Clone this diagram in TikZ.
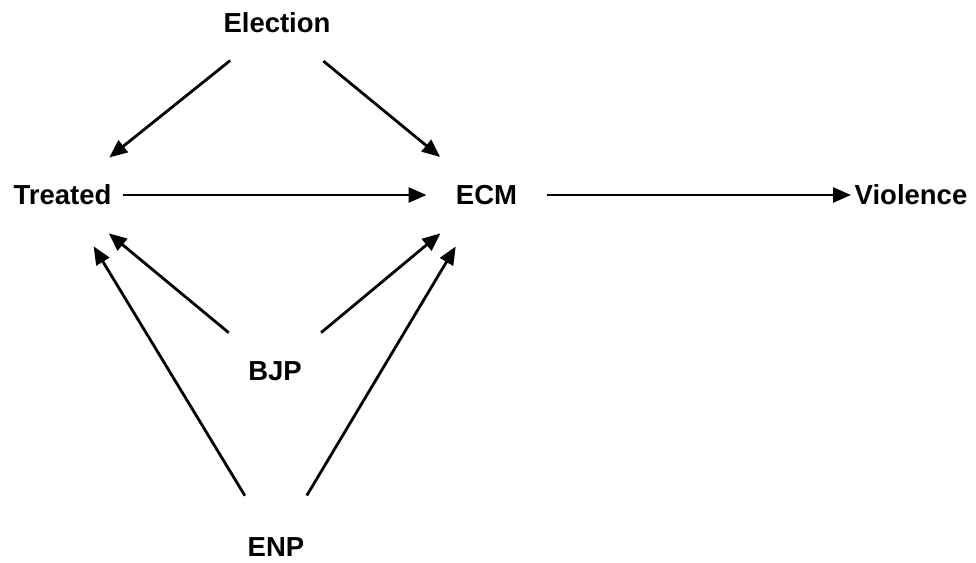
\documentclass[tikz,border=0pt]{standalone}
\usepackage{fontspec}
\setmainfont{Liberation Sans}
\usetikzlibrary{arrows.meta}
\begin{document}
\begin{tikzpicture}[x=1pt,y=-1pt,
  var/.style={inner sep=0pt,font=\bfseries\fontsize{27.5}{33}\selectfont},
  edge/.style={line width=2.8pt,-{Triangle[length=18pt,width=15pt]},shorten <=60pt,shorten >=60pt}]
\useasboundingbox (0,0) rectangle (976,562);
\node[var] (E) at (277,23) {Election};
\node[var] (T) at (62.5,195) {Treated};
\node[var] (C) at (486.5,195) {ECM};
\node[var] (V) at (911,195) {Violence};
\node[var] (B) at (275,371) {BJP};
\node[var] (N) at (276,547) {ENP};
\draw[edge] (E.center) -- (T.center);
\draw[edge] (E.center) -- (C.center);
\draw[edge] (T.center) -- (C.center);
\draw[edge] (C.center) -- (V.center);
\draw[edge] (B.center) -- (T.center);
\draw[edge] (B.center) -- (C.center);
\draw[edge] (N.center) -- (T.center);
\draw[edge] (N.center) -- (C.center);
\end{tikzpicture}
\end{document}
